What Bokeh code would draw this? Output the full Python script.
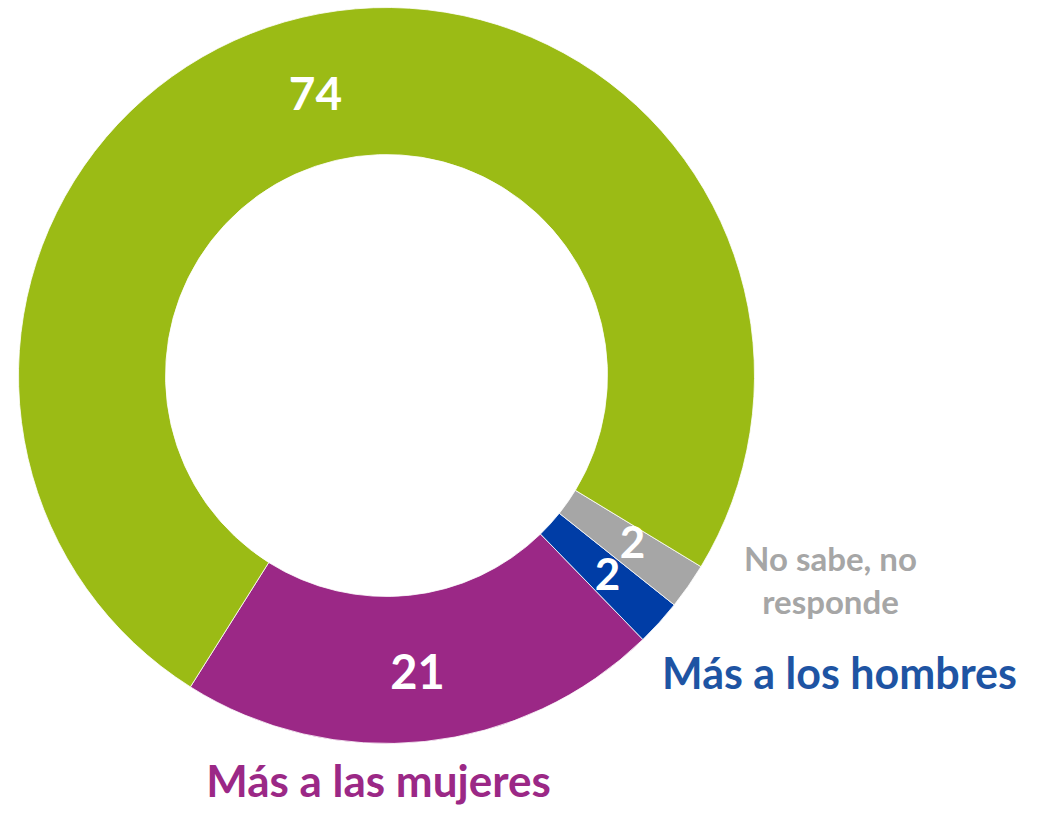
import math
from bokeh.plotting import figure
from bokeh.models import ColumnDataSource, Range1d
from bokeh.core.properties import value
from bokeh.embed import file_html
from bokeh.resources import INLINE

categories = ["Más a las mujeres", "Más a los hombres", "No sabe, no responde", "Igual"]
values = [21, 2, 2, 74]
colors = ["#9B2886", "#003DA6", "#A6A6A6", "#9BBB15"]

W, H = 1024, 807
TOP = 823
p = figure(width=W, height=H, output_backend="svg", toolbar_location=None,
           x_range=Range1d(0, W), y_range=Range1d(TOP - H, TOP),
           min_border=0)
p.axis.visible = False
p.grid.visible = False
p.outline_line_color = None
p.background_fill_color = "white"

cx, cy = 386, TOP - 375
r_out, r_in = 368, 221
start0 = math.radians(237.8)
total = sum(values)
starts, ends = [], []
a = start0
for v in values:
    starts.append(a)
    a += 2 * math.pi * v / total
    ends.append(a)

src = ColumnDataSource(dict(cat=categories, val=values, color=colors,
                            start=starts, end=ends))
p.annular_wedge(x=cx, y=cy, inner_radius=r_in, outer_radius=r_out,
                start_angle="start", end_angle="end", fill_color="color",
                line_color="white", line_width=0.8, source=src)

font = value("Lato")
def label(x, y, t, color, size):
    p.text(x=[x], y=[TOP - y], text=[t], text_color=color, text_font=font,
           text_font_style="bold", text_font_size=size, text_align="center",
           text_baseline="middle")

# value labels
label(315, 93, str(values[3]), "white", "46px")
label(417, 671, str(values[0]), "white", "47px")
label(607, 573, str(values[1]), "white", "44px")
label(632, 541, str(values[2]), "white", "44px")

# category labels
label(830, 557, "No sabe, no", "#A6A6A6", "33px")
label(830, 600, "responde", "#A6A6A6", "33px")
label(839, 672, categories[1], "#1E54A3", "43px")
label(378, 779, categories[0], "#9B2886", "44px")

open("out.html", "w").write(file_html(p, INLINE))
